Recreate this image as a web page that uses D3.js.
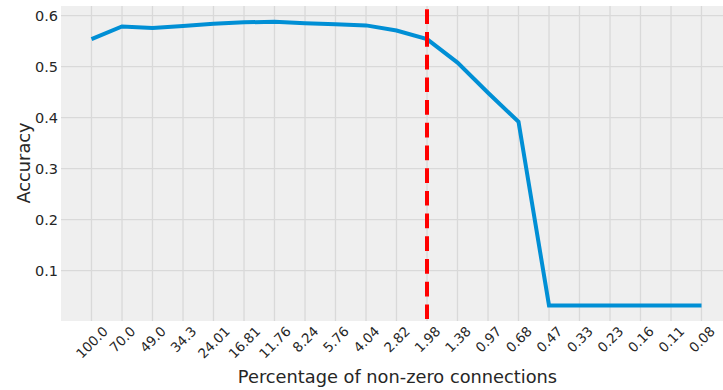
<!DOCTYPE html>
<html>
<head>
<meta charset="utf-8">
<script src="https://cdn.jsdelivr.net/npm/d3@7"></script>
<style>
  html, body { margin: 0; padding: 0; background: #ffffff; }
  svg { display: block; }
  text { font-family: "DejaVu Sans", sans-serif; fill: #262626; }
</style>
</head>
<body>
<svg id="chart" width="723" height="390"></svg>
<script>
// Sparsity levels (percentage of non-zero connections) and accuracy at each level
const levels = ["100.0", "70.0", "49.0", "34.3", "24.01", "16.81", "11.76", "8.24", "5.76", "4.04",
  "2.82", "1.98", "1.38", "0.97", "0.68", "0.47", "0.33", "0.23", "0.16", "0.11", "0.08"];
const accuracy = [0.554, 0.579, 0.576, 0.580, 0.584, 0.587, 0.588, 0.585, 0.583, 0.581,
  0.571, 0.554, 0.508, 0.449, 0.392, 0.032, 0.032, 0.032, 0.032, 0.032, 0.032];
const yTicks = [0.1, 0.2, 0.3, 0.4, 0.5, 0.6];
const markedLevel = "1.98";

const svg = d3.select("#chart");
const plot = { left: 61, top: 6, right: 732, bottom: 321 };

const x = d3.scaleLinear()
  .domain([-1, levels.length])
  .range([plot.left, plot.right]);
const y = d3.scaleLinear()
  .domain([0.0014, 0.619])
  .range([plot.bottom, plot.top]);

// axes background
svg.append("rect")
  .attr("x", plot.left).attr("y", plot.top)
  .attr("width", plot.right - plot.left).attr("height", plot.bottom - plot.top)
  .attr("fill", "#efefef");

// grid
const grid = svg.append("g").attr("stroke", "#d9d9d9").attr("stroke-width", 1.3);
grid.selectAll("line.h").data(yTicks).join("line")
  .attr("x1", plot.left).attr("x2", plot.right)
  .attr("y1", d => y(d)).attr("y2", d => y(d));
grid.selectAll("line.v").data(levels).join("line")
  .attr("y1", plot.top).attr("y2", plot.bottom)
  .attr("x1", (d, i) => x(i)).attr("x2", (d, i) => x(i));

// y axis
const yAxis = d3.axisLeft(y).tickValues(yTicks).tickSize(0).tickPadding(0).tickFormat(d3.format(".1f"));
svg.append("g")
  .attr("transform", `translate(${plot.left - 3},0)`)
  .call(yAxis)
  .call(g => g.select(".domain").remove())
  .selectAll("text").attr("font-size", 14.5).style("fill", "#262626");

// x axis: labels rotated 45°, each rotated box centred under its tick, tops aligned
const xAxis = d3.axisBottom(x).tickValues(d3.range(levels.length)).tickSize(0).tickFormat(i => levels[i]);
const labelTop = 325;
const labelH = 11;
svg.append("g")
  .attr("transform", `translate(0,${plot.bottom})`)
  .call(xAxis)
  .call(g => g.select(".domain").remove())
  .selectAll("text")
  .attr("font-size", 13.4)
  .style("fill", "#262626")
  .attr("text-anchor", "middle")
  .attr("dy", "0.35em")
  .attr("y", 0)
  .attr("transform", function () {
    const w = this.getComputedTextLength();
    const half = (w + labelH) / (2 * Math.SQRT2);
    return `translate(0,${labelTop - plot.bottom + half}) rotate(-45)`;
  });

// accuracy curve
svg.append("path")
  .datum(accuracy)
  .attr("fill", "none")
  .attr("stroke", "#008fd5")
  .attr("stroke-width", 4)
  .attr("stroke-linejoin", "miter")
  .attr("d", d3.line().x((d, i) => x(i)).y(d => y(d)));

// marker at the chosen sparsity level
const mi = levels.indexOf(markedLevel);
svg.append("line")
  .attr("x1", x(mi)).attr("x2", x(mi))
  .attr("y1", plot.top).attr("y2", plot.bottom)
  .attr("stroke", "#ff0000")
  .attr("stroke-width", 4)
  .attr("stroke-dasharray", "14.7,8")
  .attr("stroke-dashoffset", 19.4);

// axis titles
svg.append("text")
  .attr("x", 397.5).attr("y", 382.5)
  .attr("text-anchor", "middle").attr("font-size", 17.8)
  .text("Percentage of non-zero connections");
svg.append("text")
  .attr("transform", `translate(30,163) rotate(-90)`)
  .attr("text-anchor", "middle").attr("font-size", 17.8)
  .text("Accuracy");
</script>
</body>
</html>
